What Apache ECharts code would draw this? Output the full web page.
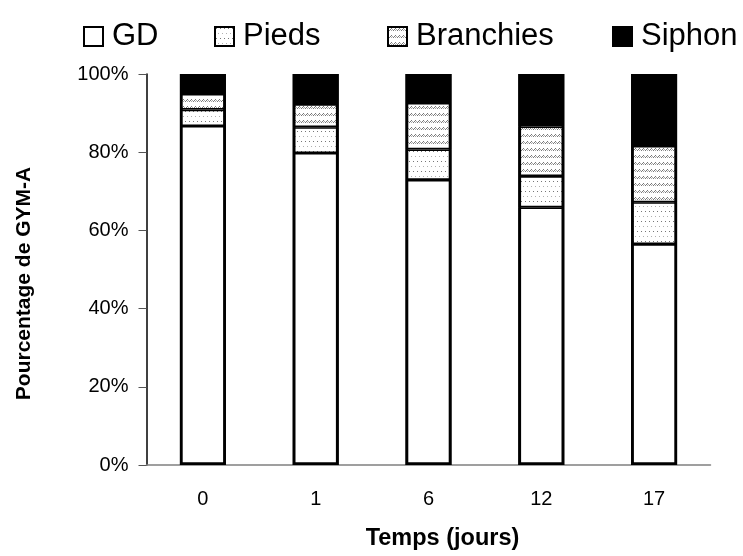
<!DOCTYPE html>
<html>
<head>
<meta charset="utf-8">
<script src="https://cdn.jsdelivr.net/npm/echarts@6/dist/echarts.min.js"></script>
<style>
html,body{margin:0;padding:0;background:#fff;}
#chart{width:743px;height:556px;}
</style>
</head>
<body>
<div id="chart"></div>
<script>
var categories = ['0', '1', '6', '12', '17'];
var seriesNames = ['GD', 'Pieds', 'Branchies', 'Siphon'];
var gdValues = [86.7, 79.8, 72.9, 65.9, 56.5];
var piedsValues = [4.2, 6.6, 7.8, 8.0, 10.7];
var branchiesValues = [4.0, 5.9, 11.9, 12.7, 14.4];
var siphonValues = [5.1, 7.7, 7.4, 13.4, 18.4];
var yTicks = [0, 20, 40, 60, 80, 100];
var legendLefts = [78, 209, 382, 607];

function dotsPattern() {
  var c = document.createElement('canvas');
  c.width = 8; c.height = 10;
  var g = c.getContext('2d');
  g.fillStyle = '#fff'; g.fillRect(0, 0, 8, 10);
  g.fillStyle = '#777';
  g.fillRect(1, 1, 1, 1); g.fillRect(5, 1, 1, 1);
  g.fillStyle = '#b0b0b0';
  g.fillRect(3, 6, 1, 1); g.fillRect(7, 6, 1, 1);
  return c;
}
function hatchPattern() {
  var c = document.createElement('canvas');
  c.width = 4; c.height = 7;
  var g = c.getContext('2d');
  g.fillStyle = '#fff'; g.fillRect(0, 0, 4, 7);
  g.fillStyle = '#777';
  g.fillRect(3, 1, 1, 1); g.fillRect(2, 2, 1, 1); g.fillRect(1, 3, 1, 1);
  g.fillStyle = '#aaa';
  g.fillRect(0, 2, 1, 1); g.fillRect(3, 3, 1, 1);
  return c;
}

var fills = [
  '#ffffff',
  { image: dotsPattern(), repeat: 'repeat' },
  { image: hatchPattern(), repeat: 'repeat' },
  '#000000'
];
var dataArrays = [gdValues, piedsValues, branchiesValues, siphonValues];
var totals = categories.map(function (c, j) {
  return dataArrays.reduce(function (s, arr) { return s + arr[j]; }, 0);
});

var chart = echarts.init(document.getElementById('chart'), null, { renderer: 'canvas' });
var fontFam = '"Liberation Sans", Arial, sans-serif';

var series = seriesNames.map(function (name, i) {
  return {
    name: name,
    type: 'bar',
    stack: 'total',
    barWidth: 46,
    barGap: '-100%',
    data: dataArrays[i],
    itemStyle: { color: fills[i], borderColor: '#000', borderWidth: 1.6 },
    emphasis: { disabled: true }
  };
});
series.push({
  name: 'frame',
  type: 'bar',
  barWidth: 46,
  barGap: '-100%',
  z: 5,
  silent: true,
  data: totals,
  itemStyle: { color: 'rgba(0,0,0,0)', borderColor: '#000', borderWidth: 2.8 },
  emphasis: { disabled: true }
});

var legends = seriesNames.map(function (name, i) {
  return {
    data: [name],
    left: legendLefts[i],
    top: 16,
    icon: 'rect',
    itemWidth: 19,
    itemHeight: 19,
    itemStyle: { borderColor: '#000', borderWidth: 2 },
    textStyle: { fontSize: 31, fontFamily: fontFam, color: '#000', padding: [0, 0, 0, 4] }
  };
});

chart.setOption({
  animation: false,
  legend: legends,
  grid: { left: 146.5, right: 32.5, top: 74, bottom: 89 },
  xAxis: {
    type: 'category',
    data: categories,
    name: 'Temps (jours)',
    nameLocation: 'middle',
    nameGap: 62,
    nameTextStyle: { fontSize: 23.5, fontWeight: 'bold', fontFamily: fontFam, color: '#000', padding: [0, 0, 0, 28] },
    axisLine: { lineStyle: { color: '#808080', width: 1.5 } },
    axisTick: { lineStyle: { color: '#808080' }, length: 6 },
    axisLabel: { fontSize: 20, fontFamily: fontFam, color: '#000', margin: 24 }
  },
  yAxis: {
    type: 'value',
    min: yTicks[0],
    max: yTicks[yTicks.length - 1],
    interval: 20,
    name: 'Pourcentage de GYM-A',
    nameLocation: 'middle',
    nameRotate: 90,
    nameGap: 112,
    nameTextStyle: { fontSize: 21, fontWeight: 'bold', fontFamily: fontFam, color: '#000', padding: [0, 28, 0, 0] },
    splitLine: { show: false },
    axisLine: { show: true, lineStyle: { color: '#000', width: 1.5 } },
    axisTick: { show: true, length: 8, lineStyle: { color: '#555' } },
    axisLabel: { fontSize: 20, fontFamily: fontFam, color: '#000', margin: 18, formatter: '{value}%' }
  },
  series: series
});
</script>
</body>
</html>
